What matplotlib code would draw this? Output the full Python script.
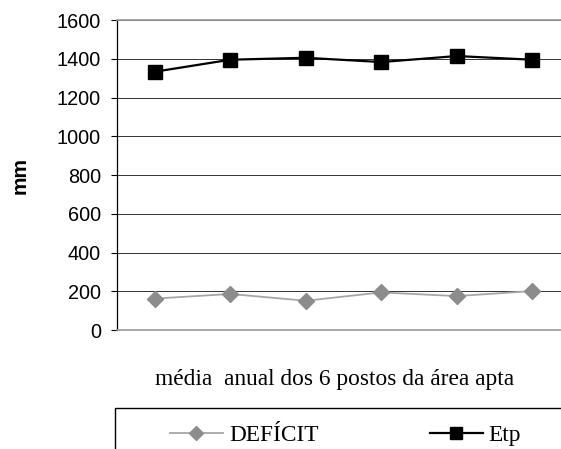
import matplotlib
matplotlib.use("Agg")
import matplotlib.pyplot as plt
from matplotlib.patches import Rectangle

# six stations, annual means (mm)
postos = [1, 2, 3, 4, 5, 6]
deficit = [162, 186, 151, 194, 175, 201]
etp = [1333, 1395, 1405, 1383, 1414, 1395]
yticks = [0, 200, 400, 600, 800, 1000, 1200, 1400, 1600]

W, H = 561, 449
fig = plt.figure(figsize=(W / 100, H / 100), dpi=100)
ax = fig.add_axes([117 / W, 1 - 330 / H, (570 - 117) / W, 310 / H])

x = list(range(len(postos)))
ax.plot(x, deficit, color="#a6a6a6", lw=1.3, marker="D", ms=8,
        mfc="#8c8c8c", mec="#8c8c8c", label="DEFÍCIT", zorder=3)
ax.plot(x, etp, color="black", lw=1.6, marker="s", ms=9.5,
        mfc="black", mec="black", label="Etp", zorder=3)

ax.set_xlim(-0.5, len(postos) - 0.5)
ax.set_ylim(0, 1600)
ax.set_yticks(yticks)
ax.set_xticks([])
ax.grid(axis="y", color="#333333", lw=0.7)
ax.set_axisbelow(True)

for lbl in ax.get_yticklabels():
    lbl.set_fontfamily("Liberation Sans")
    lbl.set_fontsize(14.3)
ax.tick_params(axis="y", length=4.5, width=0.8, pad=7, color="black")

ax.spines["right"].set_visible(False)
ax.spines["top"].set_color("#999999")
ax.spines["top"].set_linewidth(1.2)
ax.spines["bottom"].set_color("#999999")
ax.spines["bottom"].set_linewidth(1.2)
ax.spines["left"].set_color("black")
ax.spines["left"].set_linewidth(0.9)

fig.text(20 / W, 1 - 175 / H, "mm", rotation=90, ha="center", va="center",
         fontfamily="Liberation Sans", fontweight="bold", fontsize=15)
fig.text(335 / W, 1 - 380 / H, "média  anual dos 6 postos da área apta",
         ha="center", va="center", fontfamily="Liberation Serif", fontsize=16.8)

# legend box (only left and top edges fall inside the picture)
fig.patches.append(Rectangle((115 / W, -0.2), 1.0, 0.2 + (H - 408) / H,
                             transform=fig.transFigure, fill=False,
                             edgecolor="black", lw=1.0))

fig.legend(loc="center left", bbox_to_anchor=(170 / W, 1 - 435 / H),
           ncol=2, frameon=False, borderpad=0, borderaxespad=0,
           handlelength=2.27, handletextpad=0.26, columnspacing=4.76,
           markerscale=0.85,
           prop={"family": "Liberation Serif", "size": 16.8})

fig.savefig("out.png", dpi=100)
